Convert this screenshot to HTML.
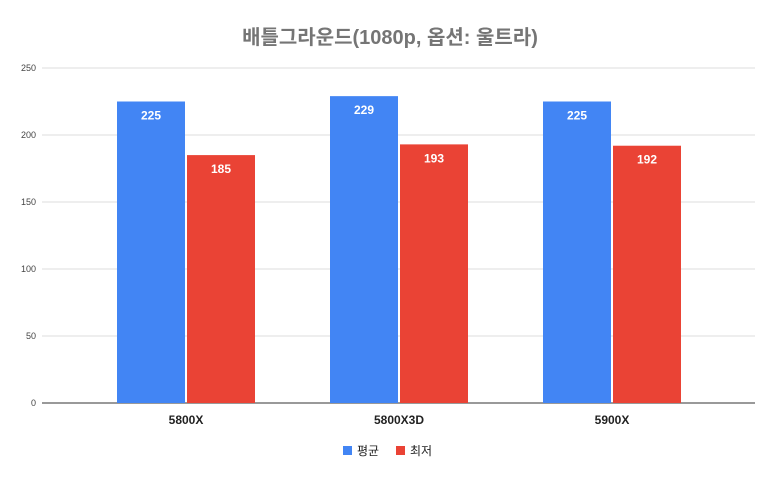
<!DOCTYPE html>
<html><head><meta charset="utf-8"><style>
body{margin:0;background:#fff;}
svg text{font-family:"Liberation Sans","Noto Sans CJK KR",sans-serif;}
</style></head><body>
<svg id="chart" width="780" height="482" viewBox="0 0 780 482">
<rect width="780" height="482" fill="#fff"/>
<text x="390" y="44" text-anchor="middle" font-size="20" font-weight="bold" fill="#757575">배틀그라운드(1080p, 옵션: 울트라)</text>
<g id="grid"></g><g id="bars"></g><g id="labels"></g>
<g>
<rect x="343" y="446" width="9" height="9" fill="#4285f4"/>
<text x="357" y="455" font-size="12" fill="#222">평균</text>
<rect x="396" y="446" width="9" height="9" fill="#ea4335"/>
<text x="410" y="455" font-size="12" fill="#222">최저</text>
</g>
</svg>
<script>
const categories=["5800X","5800X3D","5900X"];
const avgValues=[225,229,225];
const minValues=[185,193,192];
const yTicks=[0,50,100,150,200,250];
const NS="http://www.w3.org/2000/svg";
const plotLeft=42,plotRight=755,plotTop=68,plotBottom=403,yMax=250;
const bandStart=79.5,bandWidth=213;
const yScale=v=>plotBottom-(v/yMax)*(plotBottom-plotTop);
const cx=i=>bandStart+bandWidth*(i+0.5);
function mk(tag,attrs,parent,text){const e=document.createElementNS(NS,tag);for(const k in attrs)e.setAttribute(k,attrs[k]);if(text!==undefined)e.textContent=text;document.getElementById(parent).appendChild(e);return e;}
yTicks.forEach(t=>{
 const l=mk('line',{x1:plotLeft,x2:plotRight,y1:yScale(t),y2:yScale(t),stroke:t===0?'#333':'#ddd','stroke-width':1},'grid');
 
 
 const tx=mk('text',{x:36,y:yScale(t)+3,'text-anchor':'end','font-size':9,fill:'#444'},'grid',t);
 
 
});
const bw=68,gap=2;
categories.forEach((c,i)=>{
 const series=[[avgValues[i],'#4285f4',cx(i)-gap/2-bw,'avg'],[minValues[i],'#ea4335',cx(i)+gap/2,'min']];
 series.forEach(([v,col,x,n])=>{
  const r=mk('rect',{x:x,y:yScale(v),width:bw,height:plotBottom-yScale(v),fill:col},'bars');
  
  
  const t=mk('text',{x:x+bw/2,y:yScale(v)+18,'text-anchor':'middle','font-size':12,'font-weight':'bold',fill:'#fff'},'labels',v);
  
  
 });
 const xl=mk('text',{x:cx(i),y:424,'text-anchor':'middle','font-size':12,'font-weight':'bold',fill:'#222'},'labels',c);
 
 
});
</script>
</body></html>
